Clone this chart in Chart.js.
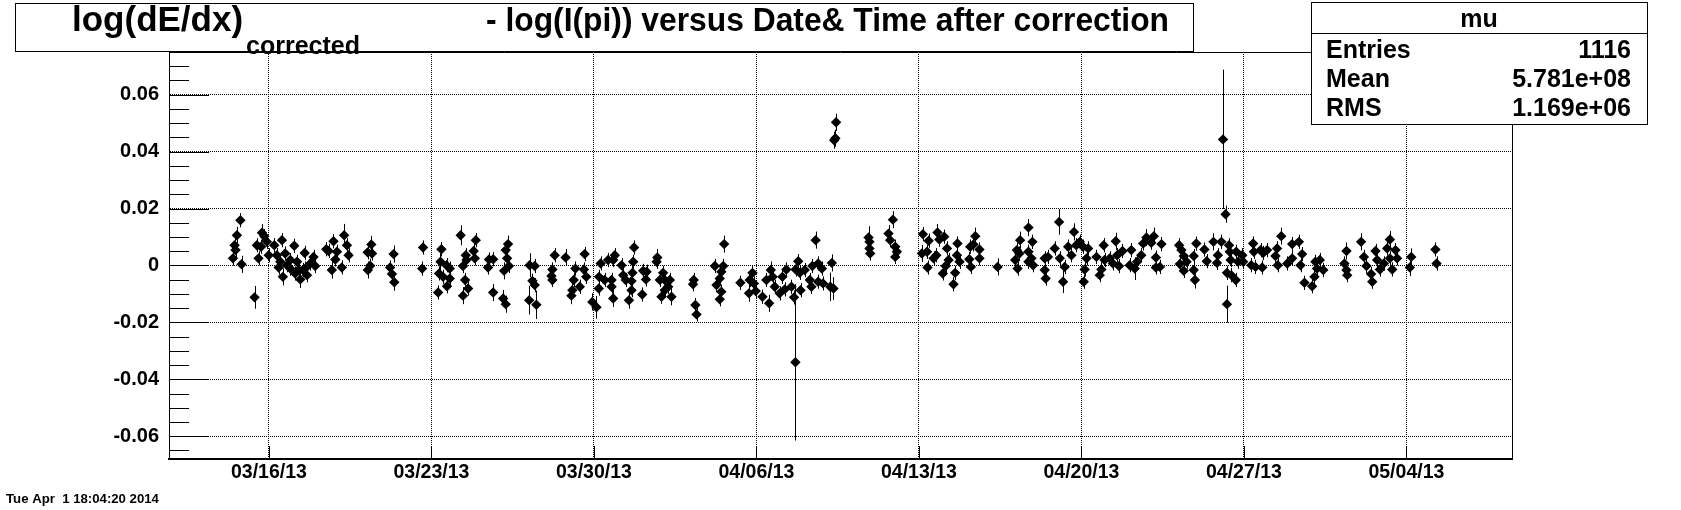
<!DOCTYPE html>
<html>
<head>
<meta charset="utf-8">
<script src="https://cdn.jsdelivr.net/npm/chart.js@4.4.1/dist/chart.umd.min.js"></script>
<style>
  html, body { margin: 0; padding: 0; background: #fff; }
  canvas { display: block; }
</style>
</head>
<body>
<canvas id="dedxChart" width="1681" height="510"></canvas>
<script>
// x = days since 03/16/13 00:00, y = log(dE/dx)corr - log(I(pi)), err = half error bar
const days = [
  -1.23, -1.38, -1.48, -1.44, -1.55, -1.18, -0.62,
  -0.30, -0.20, -0.52, -0.34, -0.45, -0.01, -0.09,
  0.23, 0.56, 0.34, 0.49, 0.70, 0.92, 0.60, 1.09, 1.28, 1.35, 1.54, 1.56, 1.78, 1.92, 1.99, 1.64, 0.92, 1.13, 0.42, 0.78, 1.21, 1.46,
  2.47, 2.78, 2.93, 3.24, 3.36, 2.71, 3.14, 3.43, 2.86, 2.57,
  4.41, 4.25, 4.44, 4.36, 4.26,
  5.37, 5.22, 5.30, 5.40,
  6.64, 6.60, 7.43, 7.39, 7.33, 7.65, 7.79, 7.50, 7.79, 7.67, 7.29,
  8.26, 8.48, 8.36, 8.51, 8.91, 8.82, 8.87, 8.45, 8.58, 8.36,
  9.48, 9.66, 9.44, 9.66,
  10.30, 10.20, 10.26, 10.34, 10.13, 10.09, 10.20,
  11.23, 11.45, 11.35, 11.45, 11.21, 11.52,
  12.31, 12.21, 12.17, 12.21, 12.78,
  13.20, 13.13, 13.07, 13.03, 13.39, 13.60, 13.57, 13.67, 13.93, 14.11,
  14.22, 14.29, 14.21, 14.46, 14.61,
  14.83, 14.90, 14.76, 14.76, 14.83,
  15.19, 15.26, 15.37, 15.73, 15.69, 15.66, 15.62, 15.62, 15.51,
  16.08, 16.12, 16.27, 16.24, 16.73, 16.70,
  16.98, 16.84, 17.05, 17.27, 17.20, 17.34, 16.91, 17.05,
  18.30, 18.27, 18.37, 18.42,
  19.61, 19.21, 19.57, 19.49, 19.42, 19.28, 19.49, 19.42,
  20.31, 20.83, 20.71, 20.89, 20.68, 20.97,
  21.26, 21.43, 21.62, 21.70, 21.55, 21.79, 22.00, 22.12, 22.29, 22.22, 22.51,
  22.80, 22.69, 22.87, 22.62, 22.68, 22.90, 23.08, 23.30, 23.37, 23.41, 23.55, 23.66, 23.66,
  23.82, 23.87, 24.25, 24.18, 24.32,
  24.35, 24.40, 24.43,
  25.83, 25.87, 25.87, 25.90,
  26.88, 26.69, 26.76, 26.98, 27.05, 26.98,
  28.17, 28.13, 28.42, 28.35, 28.37, 28.63, 28.80, 28.88, 28.75,
  29.09, 29.03, 29.21, 29.28, 29.15, 29.49, 29.56, 29.66, 29.64, 29.75,
  30.17, 30.24, 30.21, 30.43, 30.35, 30.61, 30.61,
  31.39,
  32.22, 32.15, 32.25, 32.36, 32.33, 32.72, 32.72, 32.72,
  32.89, 32.85, 32.92,
  33.42, 33.42, 33.46, 33.56, 33.85,
  34.04, 34.07, 34.21, 34.28, 34.43, 34.57, 34.68, 34.78, 34.93,
  35.07, 35.22, 35.14, 35.10, 35.29, 35.65, 35.96, 35.86, 35.79, 36.00,
  36.22, 36.48, 36.54, 36.62, 36.36, 36.77,
  37.08, 37.15, 37.30, 37.40, 37.58, 37.66, 37.80,
  38.12, 38.01, 38.21, 38.21, 38.38, 38.45,
  39.21, 39.31, 39.41, 39.24, 39.41, 39.53, 39.84, 39.84, 39.89, 39.95,
  40.30, 40.40, 40.69, 40.88, 40.84, 41.03,
  41.21, 41.10,
  41.36, 41.39, 41.43, 41.27, 41.46, 41.65, 41.67, 41.27, 41.75,
  41.93, 41.97,
  42.40, 42.43, 42.32, 42.50, 42.72, 42.83, 42.79, 43.00,
  43.36, 43.46, 43.43, 43.61, 43.87, 44.08, 44.08, 44.37, 44.51, 44.44,
  44.61, 44.94, 45.04, 45.08, 45.27, 45.42, 45.15,
  46.42, 46.33, 46.42, 46.45,
  47.05, 47.17, 47.28, 47.53, 47.48, 47.67, 47.74, 47.86,
  48.29, 48.17, 48.29, 48.39, 48.53, 48.60, 48.03,
  49.21, 49.15, 50.25, 50.30
];

const values = [
  0.0159, 0.0106, 0.0071, 0.0054, 0.0025, 0.0004, -0.0112,
  0.0115, 0.0103, 0.0071, 0.0066, 0.0025, 0.0036, 0.0083,
  0.0071, 0.0089, 0.0036, 0.0013, 0.0042, 0.0019, -0.0040, 0.0069, -0.0016, -0.0049, 0.0044, -0.0011, 0.0007, 0.0030, -0.0002, -0.0034, -0.0011, -0.0028, -0.0007, 0.0001, 0.0013, -0.0016,
  0.0057, 0.0085, 0.0048, 0.0106, 0.0071, -0.0016, -0.0007, 0.0036, 0.0021, 0.0051,
  0.0074, 0.0046, 0.0042, -0.0001, -0.0016,
  0.0040, -0.0007, -0.0030, -0.0059,
  0.0063, -0.0011, 0.0057, 0.0013, -0.0028, 0.0001, -0.0011, -0.0040, -0.0046, -0.0073, -0.0095,
  0.0106, 0.0036, -0.0002, 0.0019, 0.0089, 0.0051, 0.0025, -0.0051, -0.0081, -0.0106,
  0.0021, 0.0022, -0.0007, -0.0095,
  0.0075, 0.0054, 0.0025, -0.0002, -0.0019, -0.0116, -0.0136,
  0.0001, -0.0002, -0.0054, -0.0069, -0.0122, -0.0138,
  0.0036, -0.0014, -0.0037, -0.0051, 0.0028,
  -0.0011, -0.0051, -0.0087, -0.0106, -0.0075, 0.0040, -0.0014, -0.0040, -0.0128, -0.0147,
  -0.0040, 0.0007, -0.0081, -0.0051, 0.0019,
  0.0019, 0.0036, -0.0051, -0.0075, -0.0116,
  0.0001, -0.0034, -0.0051, 0.0063, 0.0013, -0.0026, -0.0055, -0.0087, -0.0122,
  -0.0102, -0.0019, -0.0022, -0.0049, 0.0028, 0.0013,
  -0.0026, -0.0051, -0.0051, -0.0051, -0.0075, -0.0110, -0.0110, -0.0087,
  -0.0051, -0.0066, -0.0139, -0.0172,
  0.0075, -0.0002, -0.0002, -0.0022, -0.0046, -0.0069, -0.0092, -0.0119,
  -0.0061, -0.0026, -0.0051, -0.0063, -0.0098, -0.0090,
  -0.0110, -0.0051, -0.0016, -0.0040, -0.0133, -0.0075, -0.0098, -0.0040, -0.0014, -0.0084, -0.0075,
  0.0015, -0.0014, -0.0026, -0.0112, -0.0340, -0.0087, -0.0016, -0.0051, -0.0075, -0.0002, 0.0089, 0.0007, -0.0057,
  -0.0011, -0.0063, 0.0009, -0.0075, -0.0081,
  0.0440, 0.0447, 0.0503,
  0.0098, 0.0083, 0.0060, 0.0042,
  0.0161, 0.0112, 0.0089, 0.0066, 0.0048, 0.0030,
  0.0110, 0.0042, 0.0087, 0.0048, -0.0007, 0.0025, 0.0116, 0.0091, 0.0036,
  0.0101, -0.0028, 0.0060, 0.0019, -0.0002, -0.0066, -0.0026, 0.0077, 0.0036, 0.0013,
  0.0022, -0.0005, 0.0066, 0.0103, 0.0074, 0.0056, 0.0025,
  -0.0005,
  0.0054, 0.0019, -0.0011, 0.0089, 0.0042, 0.0133, 0.0048, 0.0013,
  0.0083, 0.0025, 0.0001,
  0.0025, -0.0016, -0.0046, 0.0030, 0.0060,
  0.0153, 0.0025, -0.0057, -0.0005, 0.0066, 0.0036, 0.0118, 0.0071, 0.0083,
  0.0066, 0.0025, -0.0014, -0.0057, 0.0060, 0.0030, 0.0071, -0.0014, -0.0034, 0.0019,
  0.0025, 0.0085, 0.0036, -0.0002, 0.0007, 0.0051,
  0.0001, 0.0054, -0.0011, 0.0013, 0.0036, 0.0077, 0.0098,
  0.0103, 0.0080, 0.0028, -0.0007, -0.0005, 0.0075,
  0.0071, 0.0054, 0.0033, 0.0005, -0.0019, 0.0013, 0.0033, -0.0016, -0.0051, 0.0077,
  0.0056, 0.0015, 0.0083, 0.0036, 0.0009, 0.0083,
  0.0180, 0.0443,
  0.0071, 0.0048, 0.0019, -0.0026, -0.0034, -0.0051, 0.0048, -0.0136, 0.0013,
  0.0036, 0.0013,
  0.0077, 0.0048, 0.0001, -0.0005, 0.0054, 0.0044, -0.0007, 0.0054,
  0.0033, 0.0001, 0.0060, 0.0103, 0.0007, 0.0075, 0.0025, 0.0083, 0.0040, 0.0001,
  -0.0061, -0.0073, -0.0040, 0.0013, 0.0019, -0.0016, -0.0011,
  0.0051, 0.0007, -0.0016, -0.0034,
  0.0083, 0.0030, -0.0002, -0.0057, -0.0030, 0.0051, 0.0019, -0.0014,
  0.0091, 0.0060, 0.0025, -0.0014, 0.0054, 0.0025, 0.0007,
  0.0030, -0.0007, 0.0056, 0.0007
];

const errors = [
  0.0025, 0.003, 0.0025, 0.0025, 0.0025, 0.003, 0.004,
  0.003, 0.0025, 0.0025, 0.0025, 0.0025, 0.0025, 0.0025,
  0.0025, 0.0025, 0.0025, 0.0025, 0.0025, 0.0025, 0.003, 0.0025, 0.0025, 0.003, 0.0025, 0.0025, 0.0025, 0.0025, 0.0025, 0.0025, 0.0025, 0.0025, 0.0025, 0.0025, 0.0025, 0.0025,
  0.0025, 0.0025, 0.0025, 0.004, 0.0025, 0.003, 0.0025, 0.0025, 0.0025, 0.0025,
  0.003, 0.0025, 0.0025, 0.0025, 0.003,
  0.003, 0.0025, 0.0025, 0.003,
  0.0025, 0.0025, 0.0025, 0.003, 0.0025, 0.0025, 0.0025, 0.0025, 0.0025, 0.0025, 0.0025,
  0.0035, 0.0025, 0.0025, 0.0025, 0.0025, 0.0025, 0.0025, 0.0025, 0.0025, 0.003,
  0.0025, 0.0025, 0.0025, 0.003,
  0.003, 0.0025, 0.0025, 0.0025, 0.003, 0.003, 0.003,
  0.0042, 0.0025, 0.0025, 0.0025, 0.005, 0.005,
  0.0025, 0.0025, 0.003, 0.0025, 0.003,
  0.0025, 0.0025, 0.0025, 0.003, 0.0025, 0.0025, 0.0025, 0.0025, 0.003, 0.004,
  0.0025, 0.0025, 0.0025, 0.0025, 0.0025,
  0.0025, 0.0025, 0.0025, 0.0025, 0.003,
  0.0025, 0.0025, 0.0025, 0.0025, 0.0025, 0.0025, 0.0025, 0.0025, 0.003,
  0.0025, 0.0025, 0.0025, 0.0025, 0.003, 0.0025,
  0.0025, 0.0025, 0.0025, 0.0025, 0.0025, 0.003, 0.0025, 0.0025,
  0.0025, 0.0025, 0.0025, 0.0025,
  0.003, 0.0025, 0.0025, 0.0025, 0.0025, 0.0025, 0.0025, 0.0025,
  0.0025, 0.0025, 0.0025, 0.0025, 0.003, 0.0025,
  0.0025, 0.0025, 0.003, 0.0025, 0.003, 0.0025, 0.0025, 0.0025, 0.0025, 0.0025, 0.0025,
  0.0025, 0.0025, 0.0025, 0.0025, 0.0275, 0.0025, 0.0025, 0.0025, 0.0025, 0.0025, 0.003, 0.0025, 0.0025,
  0.0025, 0.0025, 0.003, 0.005, 0.004,
  0.003, 0.003, 0.003,
  0.004, 0.0025, 0.0025, 0.0025,
  0.003, 0.003, 0.0025, 0.0025, 0.0025, 0.0025,
  0.0025, 0.003, 0.0025, 0.0025, 0.0025, 0.0025, 0.003, 0.0025, 0.0025,
  0.0025, 0.0025, 0.0025, 0.0025, 0.0025, 0.0025, 0.0025, 0.0025, 0.0025, 0.0025,
  0.0025, 0.0025, 0.0025, 0.003, 0.0025, 0.0025, 0.0025,
  0.003,
  0.0025, 0.0025, 0.0025, 0.003, 0.0025, 0.003, 0.0025, 0.0025,
  0.0025, 0.0025, 0.0025,
  0.0025, 0.0025, 0.0025, 0.0025, 0.0025,
  0.0045, 0.0025, 0.004, 0.0025, 0.0025, 0.0025, 0.003, 0.0025, 0.0025,
  0.0025, 0.0025, 0.0025, 0.0025, 0.0025, 0.0025, 0.0025, 0.0025, 0.0025, 0.0025,
  0.0025, 0.003, 0.0025, 0.0025, 0.0025, 0.0025,
  0.0025, 0.0025, 0.004, 0.0025, 0.0025, 0.0025, 0.003,
  0.003, 0.0025, 0.0025, 0.0025, 0.0025, 0.0025,
  0.0025, 0.0025, 0.0025, 0.0025, 0.0025, 0.0025, 0.0025, 0.0025, 0.003, 0.0025,
  0.0025, 0.0025, 0.003, 0.0025, 0.0025, 0.0025,
  0.003, 0.0245,
  0.0025, 0.0025, 0.0025, 0.0025, 0.0025, 0.0025, 0.0025, 0.0065, 0.0025,
  0.0025, 0.0025,
  0.0025, 0.0025, 0.0025, 0.0025, 0.0025, 0.0025, 0.0025, 0.0025,
  0.0025, 0.0025, 0.0025, 0.003, 0.0025, 0.0025, 0.0025, 0.0025, 0.0025, 0.0025,
  0.0025, 0.0025, 0.0025, 0.0025, 0.0025, 0.0025, 0.0025,
  0.003, 0.0025, 0.0025, 0.0025,
  0.003, 0.0025, 0.0025, 0.0025, 0.0025, 0.0025, 0.0025, 0.0025,
  0.003, 0.0025, 0.0025, 0.0025, 0.0025, 0.0025, 0.0025,
  0.003, 0.003, 0.0025, 0.0025
];

const xTickDays = [0, 7, 14, 21, 28, 35, 42, 49];
const xTickLabels = ["03/16/13", "03/23/13", "03/30/13", "04/06/13", "04/13/13", "04/20/13", "04/27/13", "05/04/13"];
const yTickValues = [-0.06, -0.04, -0.02, 0, 0.02, 0.04, 0.06];
const yTickLabels = ["-0.06", "-0.04", "-0.02", "0", "0.02", "0.04", "0.06"];

const statNames = ["Entries", "Mean", "RMS"];
const statValues = ["1116", "5.781e+08", "1.169e+06"];

const FONT = "'Liberation Sans', Arial, Helvetica, sans-serif";

const rootDecor = {
  id: "rootDecor",
  beforeDatasetsDraw(chart) {
    const { ctx, scales: { x, y } } = chart;
    ctx.save();
    ctx.strokeStyle = "#000";
    ctx.lineWidth = 1;
    ctx.beginPath();
    for (let i = 0; i < days.length; i++) {
      const px = Math.round(x.getPixelForValue(days[i])) + 0.5;
      ctx.moveTo(px, y.getPixelForValue(values[i] + errors[i]));
      ctx.lineTo(px, y.getPixelForValue(values[i] - errors[i]));
    }
    ctx.stroke();
    ctx.restore();
  },
  afterDraw(chart) {
    const { ctx, chartArea: a, scales: { x, y } } = chart;
    ctx.save();
    ctx.strokeStyle = "#000";
    ctx.lineWidth = 1;

    // tick marks drawn inside the frame, ROOT style
    ctx.beginPath();
    for (let v = -0.065; v <= 0.0751; v += 0.005) {
      const py = Math.round(y.getPixelForValue(v)) + 0.5;
      const major = yTickValues.some(t => Math.abs(t - v) < 1e-6);
      ctx.moveTo(a.left, py);
      ctx.lineTo(a.left + (major ? 40 : 20), py);
    }
    for (const d of xTickDays) {
      const px = Math.round(x.getPixelForValue(d)) + 0.5;
      ctx.moveTo(px, a.bottom);
      ctx.lineTo(px, a.bottom - 13);
    }
    // top and right frame
    ctx.moveTo(a.left, Math.round(a.top) + 0.5);
    ctx.lineTo(a.right, Math.round(a.top) + 0.5);
    ctx.moveTo(Math.round(a.right) + 0.5, a.top);
    ctx.lineTo(Math.round(a.right) + 0.5, a.bottom);
    ctx.stroke();

    // title box
    ctx.fillStyle = "#fff";
    ctx.fillRect(15, 3, 1178, 48);
    ctx.strokeRect(15.5, 3.5, 1178, 48);
    ctx.fillStyle = "#000";
    ctx.textBaseline = "alphabetic";
    ctx.textAlign = "left";
    ctx.font = "bold 35px " + FONT;
    ctx.fillText("log(dE/dx)", 72, 31);
    ctx.font = "bold 34px " + FONT;
    ctx.fillText("- log(I(pi)) versus Date& Time after correction", 486, 31, 683);
    ctx.font = "bold 25px " + FONT;
    ctx.fillText("corrected", 246, 54);

    // stats box
    ctx.fillStyle = "#fff";
    ctx.fillRect(1311, 2, 336, 122);
    ctx.strokeRect(1311.5, 2.5, 336, 122);
    ctx.beginPath();
    ctx.moveTo(1311, 33.5);
    ctx.lineTo(1648, 33.5);
    ctx.stroke();
    ctx.fillStyle = "#000";
    ctx.font = "bold 25px " + FONT;
    ctx.textAlign = "center";
    ctx.fillText("mu", 1479, 27);
    statNames.forEach((name, i) => {
      const by = 58 + i * 29;
      ctx.textAlign = "left";
      ctx.fillText(name, 1326, by);
      ctx.textAlign = "right";
      ctx.fillText(statValues[i], 1631, by);
    });

    // date stamp
    ctx.textAlign = "left";
    ctx.font = "bold 13.2px " + FONT;
    ctx.fillText("Tue Apr  1 18:04:20 2014", 6, 503);
    ctx.restore();
  }
};

const ctx = document.getElementById("dedxChart").getContext("2d");
new Chart(ctx, {
  type: "scatter",
  data: {
    datasets: [{
      data: days.map((d, i) => ({ x: d, y: values[i] })),
      pointStyle: "rectRot",
      pointRadius: 5.2,
      pointHoverRadius: 5.2,
      backgroundColor: "#000",
      borderColor: "#000",
      borderWidth: 0
    }]
  },
  options: {
    responsive: false,
    animation: false,
    events: [],
    devicePixelRatio: 1,
    layout: { padding: { top: 52, right: 169, left: 0, bottom: 0 } },
    plugins: {
      legend: { display: false },
      tooltip: { enabled: false },
      title: { display: false }
    },
    scales: {
      x: {
        type: "linear",
        min: -4.306,
        max: 53.55,
        afterBuildTicks: s => { s.ticks = xTickDays.map(v => ({ value: v })); },
        afterFit: s => { s.height = 51; },
        grid: { color: "#000", lineWidth: 1, drawTicks: false },
        border: { display: true, color: "#000", width: 2, dash: [1, 1] },
        ticks: {
          autoSkip: false,
          maxRotation: 0,
          padding: 2,
          color: "#000",
          font: { family: FONT, size: 19.5, weight: "bold" },
          callback: (v, i) => xTickLabels[i]
        }
      },
      y: {
        type: "linear",
        min: -0.068,
        max: 0.075,
        afterBuildTicks: s => { s.ticks = yTickValues.map(v => ({ value: v })); },
        afterFit: s => { s.width = 169; },
        grid: { color: "#000", lineWidth: 1, drawTicks: false },
        border: { display: true, color: "#000", width: 1, dash: [1, 1] },
        ticks: {
          padding: 10,
          color: "#000",
          font: { family: FONT, size: 20, weight: "bold" },
          callback: (v, i) => yTickLabels[i]
        }
      }
    }
  },
  plugins: [rootDecor]
});
</script>
</body>
</html>
